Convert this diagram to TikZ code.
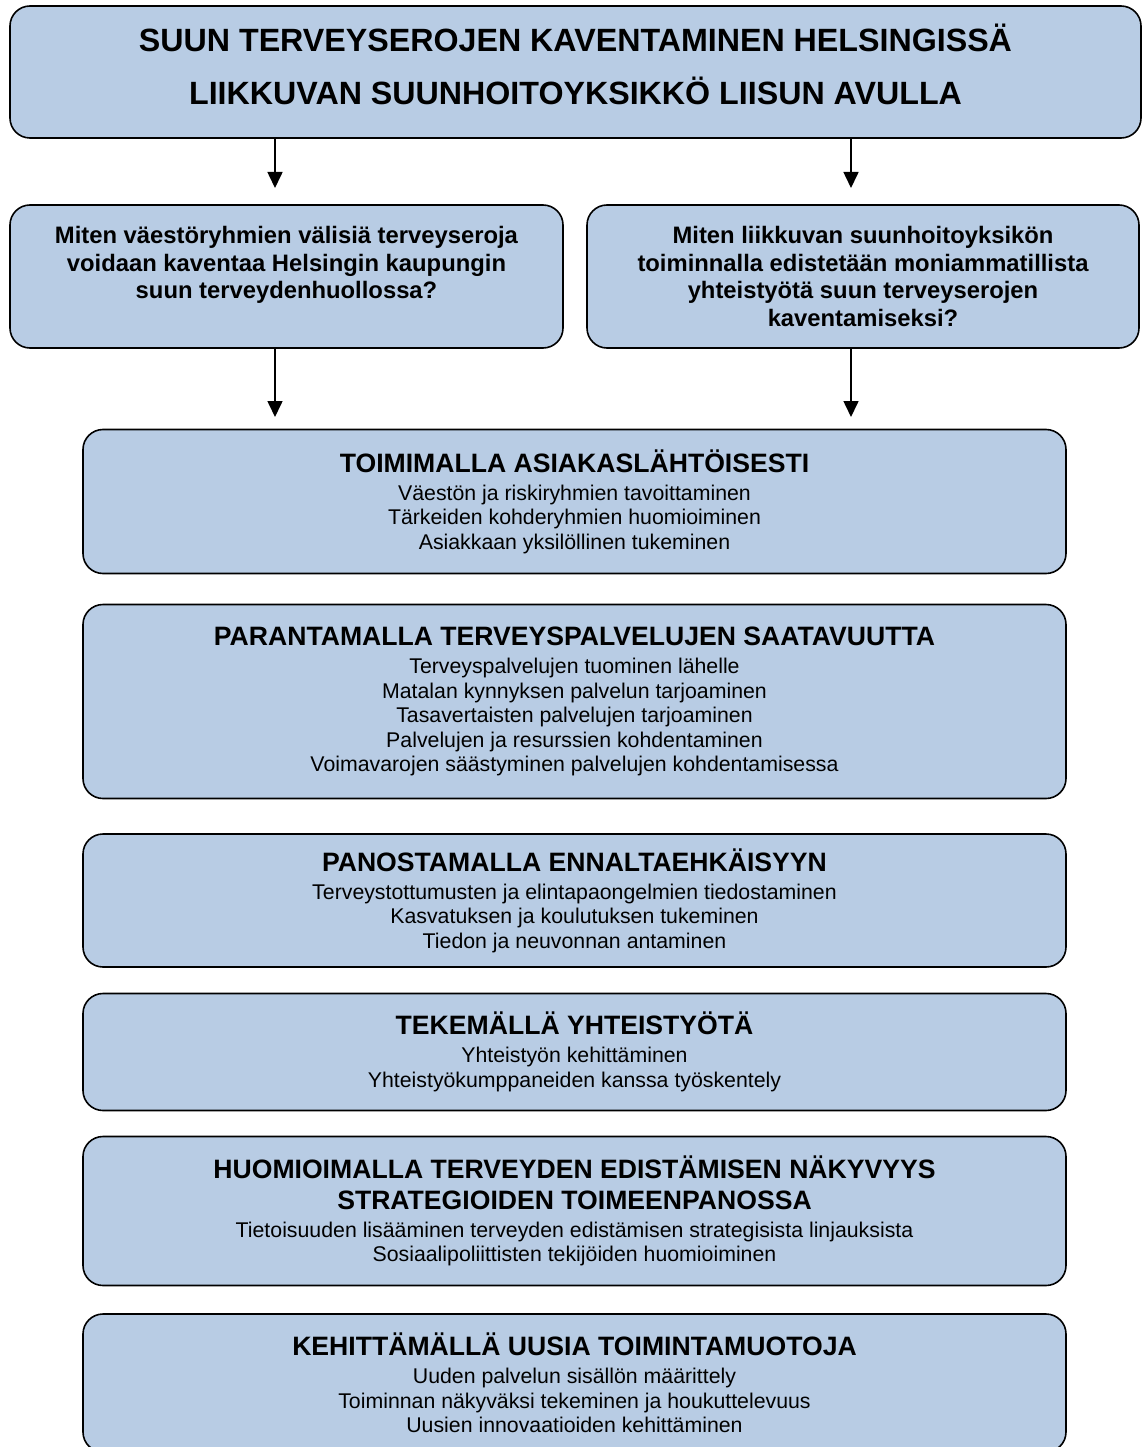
\documentclass[tikz,border=0pt]{standalone}
\usepackage{fontspec}
\setmainfont{Liberation Sans}
\usetikzlibrary{arrows.meta}
\definecolor{boxblue}{HTML}{B8CCE4}
\newcommand{\headfnt}{\fontsize{26.6}{30}\selectfont\bfseries}
\tikzset{
  box/.style={draw=black, line width=1.6pt, fill=boxblue, rounded corners=20pt,
    align=center, inner sep=0pt},
  titlebox/.style={box, font=\fontsize{32.2}{53}\selectfont\bfseries},
  qbox/.style={box, font=\fontsize{23.8}{27.5}\selectfont\bfseries},
  catbox/.style={box, minimum width=983pt, font=\fontsize{21.3}{24.5}\selectfont},
  arr/.style={-{Triangle[width=15pt,length=16pt]}, line width=1.6pt}
}
\begin{document}
\begin{tikzpicture}[x=1pt,y=-1pt]
\useasboundingbox (0,0) rectangle (1142,1447);
\node[titlebox, minimum width=1131pt, minimum height=132pt] (top) at (575.5,72)
  {SUUN TERVEYSEROJEN KAVENTAMINEN HELSINGISSÄ\\LIIKKUVAN SUUNHOITOYKSIKKÖ LIISUN AVULLA\\[-37pt]\mbox{}};
\node[qbox, minimum width=553pt, minimum height=143pt] (q1) at (286.5,276.5)
  {Miten väestöryhmien välisiä terveyseroja\\voidaan kaventaa Helsingin kaupungin\\suun terveydenhuollossa?\\\mbox{}};
\node[qbox, minimum width=552pt, minimum height=143pt] (q2) at (863,276.5)
  {Miten liikkuvan suunhoitoyksikön\\toiminnalla edistetään moniammatillista\\yhteistyötä suun terveyserojen\\kaventamiseksi?};
\node[catbox, minimum height=144pt] (b1) at (574.5,501.5)
  {{\headfnt TOIMIMALLA ASIAKASLÄHTÖISESTI}\\[3.5pt]Väestön ja riskiryhmien tavoittaminen\\Tärkeiden kohderyhmien huomioiminen\\Asiakkaan yksilöllinen tukeminen};
\node[catbox, minimum height=194pt] (b2) at (574.5,701.5)
  {{\headfnt PARANTAMALLA TERVEYSPALVELUJEN SAATAVUUTTA}\\[3.5pt]Terveyspalvelujen tuominen lähelle\\Matalan kynnyksen palvelun tarjoaminen\\Tasavertaisten palvelujen tarjoaminen\\Palvelujen ja resurssien kohdentaminen\\Voimavarojen säästyminen palvelujen kohdentamisessa};
\node[catbox, minimum height=133pt] (b3) at (574.5,900.5)
  {{\headfnt PANOSTAMALLA ENNALTAEHKÄISYYN}\\[3.5pt]Terveystottumusten ja elintapaongelmien tiedostaminen\\Kasvatuksen ja koulutuksen tukeminen\\Tiedon ja neuvonnan antaminen};
\node[catbox, minimum height=117pt] (b4) at (574.5,1052)
  {{\headfnt TEKEMÄLLÄ YHTEISTYÖTÄ}\\[3.5pt]Yhteistyön kehittäminen\\Yhteistyökumppaneiden kanssa työskentely};
\node[catbox, minimum height=149pt] (b5) at (574.5,1211)
  {{\headfnt HUOMIOIMALLA TERVEYDEN EDISTÄMISEN NÄKYVYYS}\\[6.5pt]{\headfnt STRATEGIOIDEN TOIMEENPANOSSA}\\[3.5pt]Tietoisuuden lisääminen terveyden edistämisen strategisista linjauksista\\Sosiaalipoliittisten tekijöiden huomioiminen};
\node[catbox, minimum height=138pt] (b6) at (574.5,1383)
  {{\headfnt KEHITTÄMÄLLÄ UUSIA TOIMINTAMUOTOJA}\\[3.5pt]Uuden palvelun sisällön määrittely\\Toiminnan näkyväksi tekeminen ja houkuttelevuus\\Uusien innovaatioiden kehittäminen};
\coordinate (a1) at (275,188);
\coordinate (a2) at (851,188);
\coordinate (a3) at (275,417);
\coordinate (a4) at (851,417);
\draw[arr] (top.south -| a1) -- (a1);
\draw[arr] (top.south -| a2) -- (a2);
\draw[arr] (q1.south -| a3) -- (a3);
\draw[arr] (q2.south -| a4) -- (a4);
\end{tikzpicture}
\end{document}
